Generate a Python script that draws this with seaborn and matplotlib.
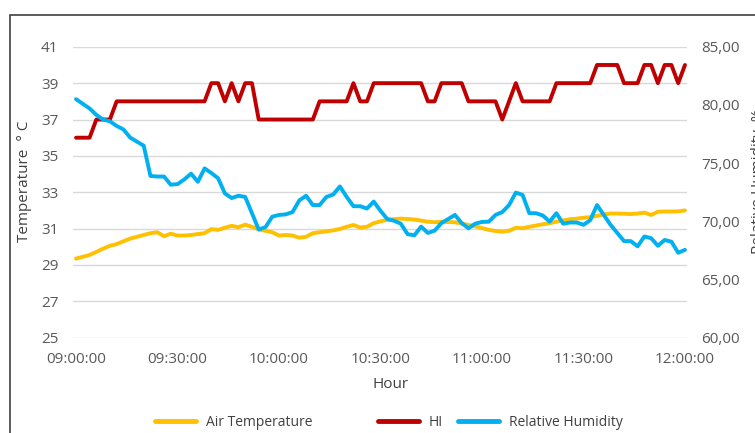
import pandas as pd
import seaborn as sns
import matplotlib.pyplot as plt
from matplotlib.patches import Rectangle

# readings every 2 minutes from 09:00 to 12:00
minutes = list(range(0, 182, 2))

air_temp = [29.35, 29.45, 29.55, 29.72, 29.9, 30.05, 30.15, 30.3, 30.45, 30.55,
            30.65, 30.75, 30.8, 30.58, 30.72, 30.62, 30.62, 30.65, 30.7, 30.75,
            30.97, 30.93, 31.05, 31.15, 31.08, 31.22, 31.1, 30.95, 30.88, 30.8,
            30.62, 30.65, 30.62, 30.5, 30.55, 30.75, 30.8, 30.85, 30.9, 30.98,
            31.1, 31.2, 31.06, 31.1, 31.3, 31.4, 31.48, 31.52, 31.55, 31.53,
            31.5, 31.44, 31.38, 31.35, 31.37, 31.36, 31.35, 31.28, 31.2, 31.13,
            31.03, 30.93, 30.87, 30.83, 30.88, 31.05, 31.02, 31.1, 31.17, 31.24,
            31.3, 31.38, 31.45, 31.52, 31.55, 31.6, 31.63, 31.7, 31.78, 31.83,
            31.83, 31.82, 31.8, 31.83, 31.88, 31.75, 31.93, 31.94, 31.94, 31.95,
            32.0]

heat_index = [36, 36, 36, 37, 37, 37, 38, 38, 38, 38,
              38, 38, 38, 38, 38, 38, 38, 38, 38, 38,
              39, 39, 38, 39, 38, 39, 39, 37, 37, 37,
              37, 37, 37, 37, 37, 37, 38, 38, 38, 38,
              38, 39, 38, 38, 39, 39, 39, 39, 39, 39,
              39, 39, 38, 38, 39, 39, 39, 39, 38, 38,
              38, 38, 38, 37, 38, 39, 38, 38, 38, 38,
              38, 39, 39, 39, 39, 39, 39, 40, 40, 40,
              40, 39, 39, 39, 40, 40, 39, 40, 40, 39,
              40]

humidity = [80.5, 80.1, 79.7, 79.15, 78.75, 78.6, 78.2, 77.9, 77.2, 76.85,
            76.5, 73.9, 73.85, 73.85, 73.15, 73.2, 73.6, 74.1, 73.4, 74.55,
            74.15, 73.7, 72.4, 72.0, 72.2, 72.1, 70.7, 69.3, 69.5, 70.4,
            70.55, 70.6, 70.8, 71.8, 72.2, 71.4, 71.4, 72.1, 72.3, 73.0,
            72.1, 71.3, 71.3, 71.1, 71.7, 70.9, 70.2, 70.05, 69.8, 68.9,
            68.8, 69.55, 69.0, 69.2, 69.85, 70.2, 70.55, 69.85, 69.4, 69.8,
            69.95, 69.97, 70.55, 70.8, 71.4, 72.47, 72.27, 70.7, 70.7, 70.5,
            69.97, 70.7, 69.8, 69.9, 69.9, 69.7, 70.1, 71.4, 70.55, 69.7,
            69.0, 68.3, 68.3, 67.85, 68.7, 68.55, 67.9, 68.4, 68.25, 67.3,
            67.55]

x_ticks = [0, 30, 60, 90, 120, 150, 180]
x_labels = ['09:00:00', '09:30:00', '10:00:00', '10:30:00', '11:00:00', '11:30:00', '12:00:00']
temp_ticks = [25, 27, 29, 31, 33, 35, 37, 39, 41]
rh_ticks = [60, 65, 70, 75, 80, 85]
rh_labels = ['60,00', '65,00', '70,00', '75,00', '80,00', '85,00']

df = pd.DataFrame({'minute': minutes, 'air_temp': air_temp,
                   'hi': heat_index, 'humidity': humidity})

sns.set_style('white')
plt.rcParams['font.family'] = ['Open Sans', 'DejaVu Sans']

W, H = 755, 433
fig = plt.figure(figsize=(W / 100, H / 100), dpi=100)
ax = fig.add_axes([73 / W, 1 - 337.7 / H, 614 / W, 290.9 / H])
ax2 = ax.twinx()

yellow, red, blue = '#FFC000', '#C00000', '#00B0F0'
sns.lineplot(data=df, x='minute', y='air_temp', ax=ax, color=yellow, lw=2.8, legend=False)
sns.lineplot(data=df, x='minute', y='hi', ax=ax, color=red, lw=2.8, legend=False)
sns.lineplot(data=df, x='minute', y='humidity', ax=ax2, color=blue, lw=2.8, legend=False)

ax.set_xlim(-0.9, 180.6)
ax.set_ylim(25, 41)
ax2.set_ylim(60, 85)
ax.set_xticks(x_ticks, x_labels)
ax.set_yticks(temp_ticks)
ax2.set_yticks(rh_ticks, rh_labels)
ax.set_xlabel('')
ax.set_ylabel('')
ax2.set_ylabel('')

ax.grid(axis='y', color='#d9d9d9', lw=1)
ax.grid(axis='x', visible=False)
ax2.grid(False)
for a in (ax, ax2):
    for s in a.spines.values():
        s.set_visible(False)

ax.tick_params(axis='y', length=0, pad=10.5, labelsize=11, labelcolor='#595959')
ax.tick_params(axis='x', length=0, pad=10, labelsize=11, labelcolor='#595959')
ax2.tick_params(axis='y', length=0, pad=10.5, labelsize=11, labelcolor='#595959')

fig.text(25 / W, 1 - 181 / H, 'Temperature  ° C', rotation=90, ha='center', va='center',
         fontsize=11, color='#404040')
# right axis title is cut by the chart edge, as in the original screenshot
fig.text(758 / W, 1 - 181 / H, 'Relative Humidity  %', rotation=90, ha='center', va='center',
         fontsize=11, color='#404040')
fig.text(391 / W, 1 - 385 / H, 'Hour', ha='center', va='center', fontsize=11, color='#404040')

# legends at the bottom
l_air, l_hi = ax.get_lines()[0], ax.get_lines()[1]
l_rh = ax2.get_lines()[0]
leg_kw = dict(frameon=False, fontsize=10, handlelength=2.95, handletextpad=0.7,
              borderaxespad=0, borderpad=0, labelcolor='#404040')
fig.legend([l_air], ['Air Temperature'], loc='center left',
           bbox_to_anchor=(155 / W, 1 - 422 / H), **leg_kw)
fig.legend([l_hi, l_rh], ['HI', 'Relative Humidity'], loc='center left', ncol=2,
           columnspacing=1.1, bbox_to_anchor=(378 / W, 1 - 422 / H), **leg_kw)
for lg in fig.legends:
    for h in lg.legend_handles:
        h.set_linewidth(3.5)

# chart frame (cropped on the right and bottom)
fig.add_artist(Rectangle((10 / W, -0.1), 1.0, 1.1 - 15 / H, transform=fig.transFigure,
                         fill=False, edgecolor='#404040', lw=1.2))

fig.savefig('out.png', dpi=100)
